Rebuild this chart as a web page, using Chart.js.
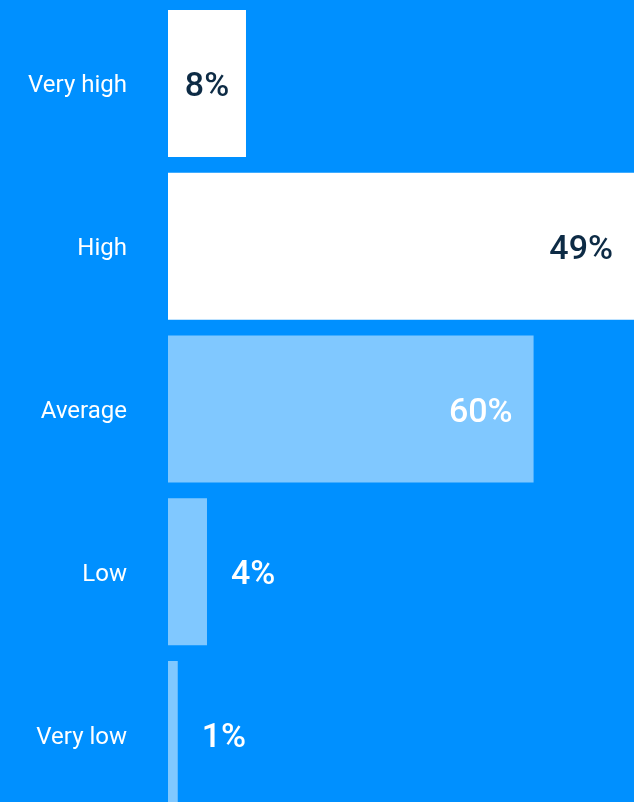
<!DOCTYPE html>
<html>
<head>
<meta charset="utf-8">
<script src="https://cdn.jsdelivr.net/npm/chart.js@4"></script>
<style>
    html, body { margin: 0; padding: 0; background: #0090ff; overflow: hidden; }
    canvas { display: block; }
</style>
</head>
<body>
<canvas id="graphe" width="634" height="818"></canvas>
<script>
// Données
const categories = ['Very high', 'High', 'Average', 'Low', 'Very low'];
const valeurs = [8, 49, 37.5, 4, 1];
const etiquettes = ['8%', '49%', '60%', '4%', '1%'];
const couleursBarres = ['#ffffff', '#ffffff', '#80c8ff', '#80c8ff', '#80c8ff'];
const couleursTexte = ['#0d2b45', '#0d2b45', '#ffffff', '#ffffff', '#ffffff'];

// Etiquettes des barres
const pluginEtiquettes = {
    id: 'etiquettes',
    afterDatasetsDraw(chart) {
        const ctx = chart.ctx;
        const area = chart.chartArea;
        const meta = chart.getDatasetMeta(0);
        ctx.save();
        ctx.font = '500 34px Roboto';
        ctx.textBaseline = 'middle';
        meta.data.forEach(function(bar, i){
            const texte = etiquettes[i];
            const tw = ctx.measureText(texte).width;
            const fin = Math.min(bar.x, area.right);
            const largeur = fin - bar.base;
            let x;
            if (largeur >= tw + 48) {
                ctx.textAlign = 'right';
                x = fin - 21;
                ctx.fillStyle = couleursTexte[i];
            } else if (largeur >= tw + 10) {
                ctx.textAlign = 'center';
                x = bar.base + largeur / 2;
                ctx.fillStyle = couleursTexte[i];
            } else {
                ctx.textAlign = 'left';
                x = fin + 24;
                ctx.fillStyle = '#ffffff';
            }
            ctx.fillText(texte, x, bar.y + 4);
        });
        ctx.restore();
    }
};

const data = {
    labels: categories,
    datasets: [{
        data: valeurs,
        backgroundColor: couleursBarres,
        borderWidth: 0,
        barPercentage: 1,
        categoryPercentage: 0.903
    }]
};

const config = {
    type: 'bar',
    data: data,
    options: {
        indexAxis: 'y',
        responsive: false,
        animation: false,
        layout: { padding: { top: 2, bottom: 2, left: 0, right: 0 } },
        plugins: {
            legend: { display: false },
            tooltip: { enabled: false }
        },
        scales: {
            x: {
                display: false,
                min: 0,
                max: 47.8
            },
            y: {
                grid: { display: false, drawTicks: false },
                border: { display: false },
                ticks: {
                    color: '#ffffff',
                    font: { family: 'Roboto', size: 24 },
                    padding: 41,
                    labelOffset: 3
                },
                afterFit: function(scale){
                    scale.width = 168;
                    scale.paddingTop = 0;
                    scale.paddingBottom = 0;
                }
            }
        }
    },
    plugins: [pluginEtiquettes]
};

const graphe = new Chart(document.getElementById('graphe'), config);
</script>
</body>
</html>
